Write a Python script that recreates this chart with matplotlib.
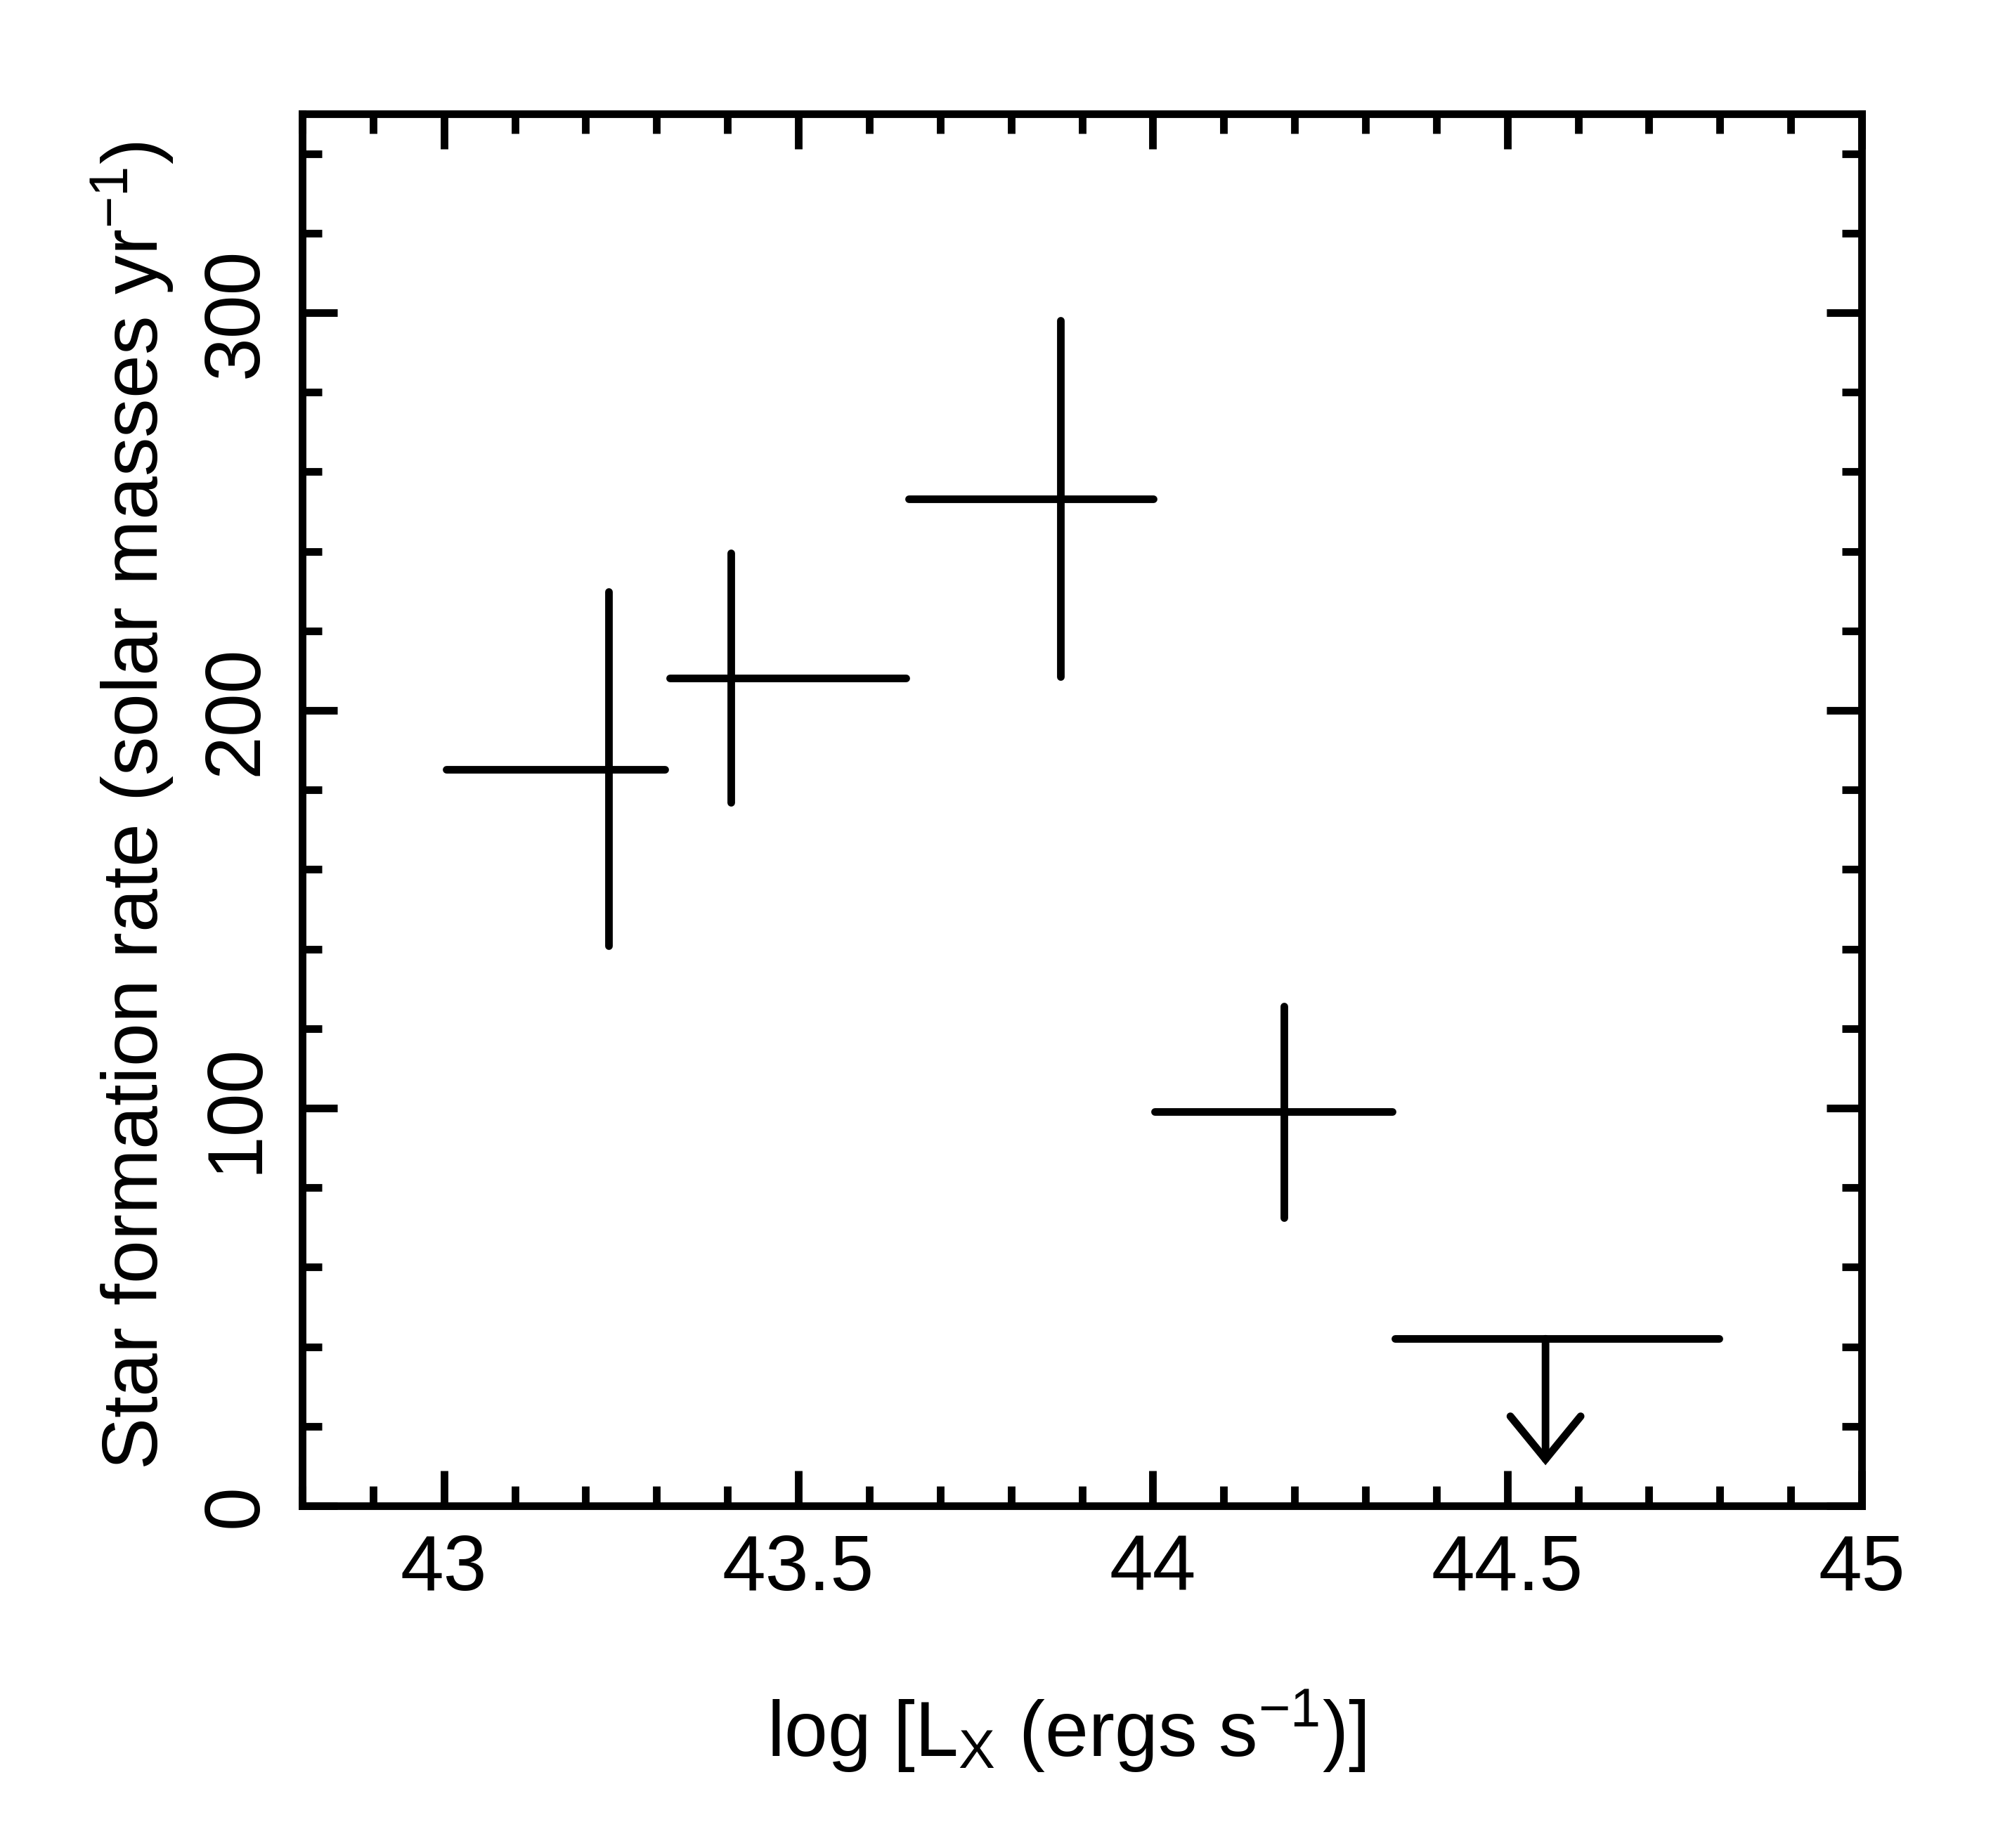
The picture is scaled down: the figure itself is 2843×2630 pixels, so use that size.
import matplotlib
matplotlib.use("Agg")
import matplotlib.pyplot as plt
from matplotlib.ticker import MultipleLocator
import numpy as np

plt.rcParams['font.family'] = ['Liberation Sans', 'DejaVu Sans']
plt.rcParams['mathtext.fontset'] = 'custom'
plt.rcParams['mathtext.rm'] = 'Liberation Sans'
plt.rcParams['mathtext.it'] = 'Liberation Sans'
plt.rcParams['mathtext.default'] = 'regular'

# ---- data ----
lx_center = [43.232, 43.405, 43.870, 44.185]
lx_low = [43.003, 43.319, 43.656, 44.003]
lx_high = [43.312, 43.652, 44.001, 44.338]
sfr = [185.2, 208.1, 253.1, 99.1]
sfr_low = [140.8, 176.9, 208.5, 72.4]
sfr_high = [229.8, 239.5, 298.1, 125.7]

# upper limit
ul_center = [44.554]
ul_low = [44.342]
ul_high = [44.799]
ul_sfr = [42.0]
ul_tip = [10.2]

xticks = [43, 43.5, 44, 44.5, 45]
xticklabels = ['43', '43.5', '44', '44.5', '45']
yticks = [0, 100, 200, 300]
yticklabels = ['0', '100', '200', '300']

LW = 7.8
FS = 80

fig = plt.figure(figsize=(28.43, 26.30), dpi=100)
ax = fig.add_axes([430/2843, 1-2143/2630, 2219/2843, 1981/2630])

xc = np.array(lx_center)
y = np.array(sfr)
xerr = [xc - np.array(lx_low), np.array(lx_high) - xc]
yerr = [y - np.array(sfr_low), np.array(sfr_high) - y]
eb = ax.errorbar(xc, y, xerr=xerr, yerr=yerr, fmt='none', ecolor='black',
                 elinewidth=LW, capsize=0)
for lc in eb[2]:
    lc.set_capstyle('round')

# upper limit bar
ulc = np.array(ul_center)
uly = np.array(ul_sfr)
eb2 = ax.errorbar(ulc, uly, xerr=[ulc - np.array(ul_low), np.array(ul_high) - ulc],
                  fmt='none', ecolor='black', elinewidth=LW, capsize=0)
for lc in eb2[2]:
    lc.set_capstyle('round')
for xx, y0, y1 in zip(ul_center, ul_sfr, ul_tip):
    ax.annotate('', xy=(xx, y1), xytext=(xx, y0),
                arrowprops=dict(arrowstyle='->,head_length=0.44,head_width=0.36',
                                lw=LW, color='black', shrinkA=0, shrinkB=0,
                                mutation_scale=100, joinstyle='miter'))

ax.set_xlim(42.8, 45)
ax.set_ylim(0, 350)

ax.set_xticks(xticks)
ax.set_xticklabels(xticklabels)
ax.xaxis.set_minor_locator(MultipleLocator(0.1))
ax.set_yticks(yticks)
ax.set_yticklabels(yticklabels)
ax.yaxis.set_minor_locator(MultipleLocator(20))

for s in ax.spines.values():
    s.set_linewidth(LW)

ax.tick_params(which='both', direction='in', top=True, right=True, width=LW,
               colors='black')
ax.tick_params(which='major', length=36)
ax.tick_params(which='minor', length=20)
ax.tick_params(axis='x', which='major', labelsize=FS, pad=28)
ax.tick_params(axis='y', which='major', labelsize=FS, pad=30, labelrotation=90)
for lab in ax.get_yticklabels():
    lab.set_va('center')

ax.set_xlabel(r'log [L$_X$ (ergs s$^{-1}$)]', fontsize=FS)
ax.xaxis.set_label_coords(0.49, -0.131)
ax.set_ylabel(r'Star formation rate (solar masses yr$^{-1}$)', fontsize=FS)
ax.yaxis.set_label_coords(-0.081, 0.503)

fig.savefig('out.png', dpi=100, facecolor='white')
